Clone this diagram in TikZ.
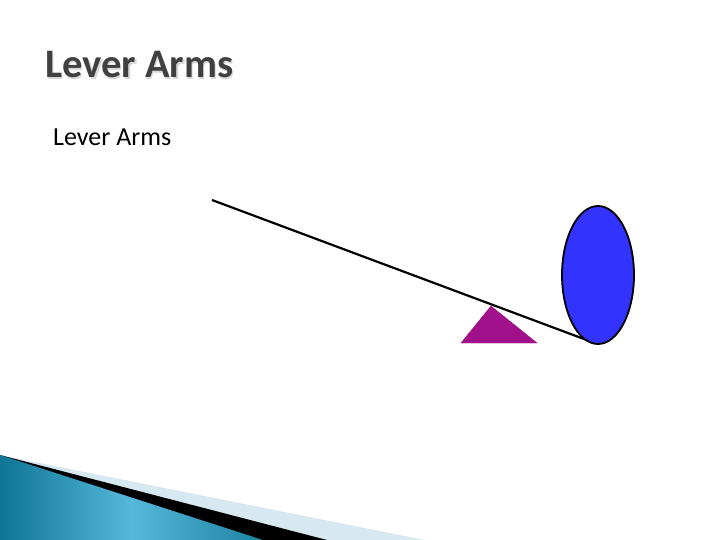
\documentclass[tikz,border=0pt]{standalone}
\usepackage{fontspec}
\setmainfont{Carlito}
\usetikzlibrary{shadings}
\definecolor{titlegray}{HTML}{404040}
\definecolor{shadowgray}{HTML}{D8D8D8}
\definecolor{leverblue}{HTML}{3333FF}
\definecolor{fulcrumpurple}{HTML}{A0108A}
\definecolor{paleblue}{HTML}{D6E9F0}
\definecolor{tealdark}{HTML}{0E7595}
\definecolor{teallight}{HTML}{56B8DA}
\begin{document}
\begin{tikzpicture}[x=1pt,y=-1pt]
\useasboundingbox (0,0) rectangle (720,540);

% title and text
\node[anchor=base west,inner sep=0pt,text=shadowgray,font=\fontsize{40.5}{40}\selectfont\bfseries] (shadow) at (46.5,79.5) {Lever Arms};
\node[anchor=base west,inner sep=0pt,text=titlegray,font=\fontsize{40.5}{40}\selectfont\bfseries] (title) at (45,78) {Lever Arms};
\node[anchor=base west,inner sep=0pt,font=\fontsize{26}{26}\selectfont] (text) at (53,146) {Lever Arms};

% lever
\coordinate (L1) at (212,200);
\coordinate (L2) at (592,342);
\coordinate (F1) at (461,343);
\coordinate (F2) at (537,343);
\coordinate (F3) at (491,306);

\draw[fill=fulcrumpurple,draw=fulcrumpurple] (F1)--(F2)--(F3)--cycle;
\draw[line width=2.2pt] (L1)--(L2);
\draw[line width=1.8pt,fill=leverblue] (598,275) ellipse (36 and 69);

% corner decoration
\coordinate (C0) at (0,455);
\fill[paleblue] (C0)--(425,540)--(0,540)--cycle;
\fill[black] (C0)--(327,540)--(0,540)--cycle;
\shade[left color=tealdark,right color=tealdark!80!teallight,middle color=teallight] (C0)--(263,540)--(0,540)--cycle;
\end{tikzpicture}
\end{document}
